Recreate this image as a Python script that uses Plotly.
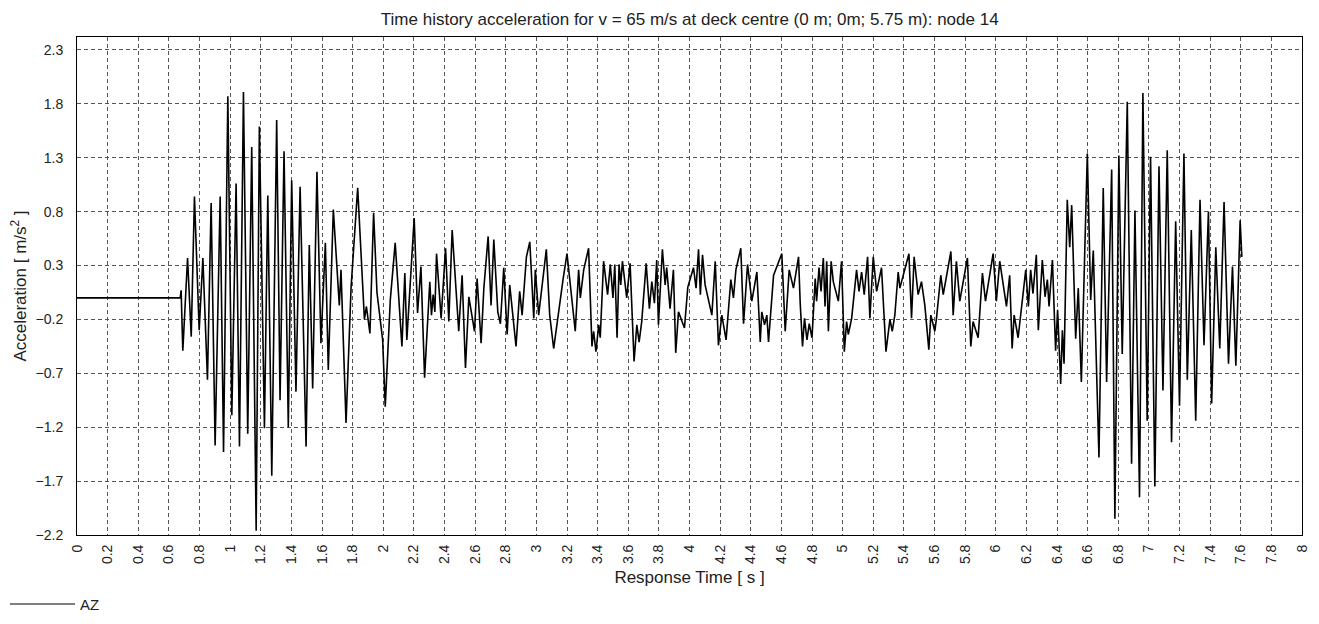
import plotly.graph_objects as go

# Time history of vertical acceleration AZ (extremes of the signal)
time_s = [
    0.000, 0.674, 0.680, 0.691, 0.722, 0.746, 0.767, 0.798, 0.822, 0.852,
    0.876, 0.902, 0.935, 0.957, 0.985, 1.011, 1.039, 1.061, 1.087, 1.115,
    1.141, 1.170, 1.191, 1.224, 1.246, 1.272, 1.304, 1.326, 1.352, 1.380,
    1.402, 1.430, 1.457, 1.496, 1.517, 1.539, 1.567, 1.593, 1.622, 1.641,
    1.674, 1.713, 1.724, 1.757, 1.790, 1.833, 1.877, 1.890, 1.913, 1.937,
    1.959, 1.996, 2.013, 2.046, 2.078, 2.122, 2.141, 2.154, 2.202, 2.224,
    2.246, 2.270, 2.304, 2.315, 2.326, 2.337, 2.348, 2.378, 2.407, 2.428,
    2.450, 2.493, 2.515, 2.537, 2.559, 2.596, 2.613, 2.639, 2.657, 2.685,
    2.704, 2.722, 2.748, 2.765, 2.787, 2.809, 2.826, 2.867, 2.891, 2.907,
    2.935, 2.957, 2.983, 2.993, 3.015, 3.065, 3.087, 3.113, 3.174, 3.200,
    3.254, 3.276, 3.287, 3.309, 3.341, 3.363, 3.374, 3.389, 3.407, 3.417,
    3.439, 3.465, 3.483, 3.500, 3.512, 3.527, 3.540, 3.551, 3.562, 3.590,
    3.612, 3.638, 3.656, 3.671, 3.688, 3.717, 3.738, 3.754, 3.771, 3.786,
    3.797, 3.823, 3.841, 3.851, 3.873, 3.895, 3.910, 3.928, 3.967, 3.989,
    4.026, 4.043, 4.059, 4.071, 4.085, 4.102, 4.146, 4.168, 4.189, 4.211,
    4.239, 4.270, 4.287, 4.303, 4.335, 4.353, 4.379, 4.407, 4.440, 4.462,
    4.472, 4.490, 4.505, 4.516, 4.549, 4.603, 4.625, 4.651, 4.679, 4.712,
    4.723, 4.738, 4.751, 4.767, 4.782, 4.800, 4.821, 4.830, 4.846, 4.859,
    4.874, 4.885, 4.896, 4.907, 4.925, 4.939, 4.972, 4.993, 5.011, 5.026,
    5.037, 5.059, 5.091, 5.107, 5.124, 5.141, 5.163, 5.178, 5.200, 5.222,
    5.254, 5.283, 5.309, 5.324, 5.341, 5.363, 5.374, 5.433, 5.450, 5.467,
    5.493, 5.515, 5.537, 5.563, 5.576, 5.602, 5.613, 5.641, 5.657, 5.707,
    5.722, 5.743, 5.765, 5.815, 5.837, 5.852, 5.885, 5.913, 5.933, 5.983,
    6.004, 6.026, 6.070, 6.091, 6.107, 6.120, 6.146, 6.196, 6.213, 6.228,
    6.243, 6.265, 6.278, 6.304, 6.322, 6.337, 6.348, 6.370, 6.391, 6.404,
    6.424, 6.435, 6.446, 6.467, 6.483, 6.496, 6.522, 6.539, 6.559, 6.598,
    6.620, 6.637, 6.674, 6.702, 6.724, 6.757, 6.778, 6.804, 6.826, 6.859,
    6.887, 6.909, 6.939, 6.961, 6.989, 7.011, 7.039, 7.066, 7.092, 7.120,
    7.148, 7.175, 7.200, 7.229, 7.251, 7.277, 7.306, 7.334, 7.360, 7.389,
    7.410, 7.437, 7.463, 7.491, 7.520, 7.546, 7.568, 7.596, 7.607,
]

accel_az = [
    0.00, 0.00, 0.07, -0.49, 0.37, -0.36, 0.94, -0.30, 0.37, -0.76,
    0.88, -1.37, 0.94, -1.43, 1.87, -1.09, 1.06, -1.38, 1.91, -1.26,
    1.40, -2.16, 1.59, -1.21, 0.95, -1.65, 1.65, -0.95, 1.36, -1.20,
    1.09, -0.87, 1.03, -1.38, 0.49, -0.84, 1.17, -0.42, 0.51, -0.67,
    0.82, -0.07, 0.26, -1.16, 0.10, 1.02, -0.20, -0.08, -0.33, 0.79,
    0.05, -0.39, -1.01, -0.02, 0.51, -0.45, 0.23, -0.39, 0.74, -0.14,
    0.29, -0.74, 0.15, -0.16, 0.03, -0.13, 0.41, -0.19, 0.46, -0.22,
    0.63, -0.31, 0.21, -0.65, 0.01, -0.31, 0.18, -0.42, 0.09, 0.57,
    -0.07, 0.54, -0.13, -0.24, 0.28, -0.34, 0.12, -0.45, 0.06, -0.16,
    0.38, 0.52, -0.19, 0.26, -0.16, 0.45, -0.16, -0.47, 0.17, 0.41,
    -0.31, 0.26, 0.00, 0.26, 0.46, -0.45, -0.31, -0.50, -0.25, -0.37,
    0.34, 0.03, 0.31, 0.00, 0.31, -0.37, 0.31, 0.12, 0.34, 0.00,
    0.32, -0.59, -0.25, -0.41, -0.22, 0.32, -0.10, 0.15, -0.05, 0.35,
    -0.25, 0.45, 0.12, 0.28, -0.10, 0.26, -0.51, -0.13, -0.28, 0.10,
    0.28, 0.09, 0.45, 0.03, 0.40, 0.12, -0.16, 0.34, -0.44, -0.16,
    -0.39, 0.17, 0.00, 0.26, 0.46, -0.24, 0.31, -0.03, 0.24, -0.41,
    -0.13, -0.25, -0.16, -0.41, 0.21, 0.41, -0.31, 0.26, 0.09, 0.38,
    -0.05, -0.45, -0.19, -0.39, -0.24, -0.37, 0.18, -0.03, 0.28, 0.06,
    0.37, -0.08, 0.34, -0.31, 0.34, 0.15, -0.03, 0.34, -0.50, -0.22,
    -0.34, -0.19, 0.26, 0.06, 0.24, 0.03, 0.38, -0.19, 0.38, 0.06,
    0.28, -0.50, -0.20, -0.31, -0.16, 0.24, 0.09, 0.41, -0.19, 0.38,
    0.03, 0.15, -0.07, -0.48, -0.16, -0.31, -0.19, 0.21, 0.03, 0.43,
    -0.16, 0.34, -0.03, 0.37, -0.45, -0.22, -0.37, 0.23, -0.03, 0.41,
    -0.03, 0.34, -0.08, 0.21, -0.47, -0.16, -0.37, 0.26, -0.08, 0.26,
    0.04, 0.40, -0.30, 0.35, 0.01, 0.17, -0.08, 0.35, -0.49, -0.11,
    -0.80, -0.30, -0.61, 0.91, 0.47, 0.86, -0.38, 0.09, -0.78, 1.34,
    -0.02, 0.44, -1.48, 1.02, -0.78, 1.19, -2.05, 1.32, -0.52, 1.82,
    -1.54, 0.81, -1.85, 1.90, -1.14, 1.31, -1.75, 1.22, -0.86, 1.37,
    -1.34, 0.71, -1.00, 1.34, -0.76, 0.63, -1.14, 0.91, -0.44, 0.80,
    -0.98, 0.47, -0.47, 0.89, -0.61, 0.29, -0.63, 0.72, 0.38,
]

y_ticks = [-2.2, -1.7, -1.2, -0.7, -0.2, 0.3, 0.8, 1.3, 1.8, 2.3]

title_text = "Time history acceleration for v = 65 m/s at deck centre (0 m; 0m; 5.75 m): node 14"
series_name = "AZ"

FONT = "Liberation Sans, Arial, sans-serif"
TXT = "#222"

fig = go.Figure()
fig.add_trace(go.Scatter(
    x=time_s, y=accel_az, mode="lines", name=series_name,
    line=dict(color="black", width=1.6), showlegend=False,
))

# the page body adds an 8 px offset, so the figure is 8 px smaller and shifted
fig.update_layout(
    width=1311, height=616,
    margin=dict(l=69, r=17, t=29, b=89, autoexpand=False),
    paper_bgcolor="white", plot_bgcolor="white",
    font=dict(family=FONT, size=14, color=TXT),
    title=dict(text=title_text, x=0.520, xanchor="center", y=0.982, yanchor="middle",
               pad=dict(t=0, b=0), font=dict(family=FONT, size=17, color=TXT)),
    showlegend=False,
    shapes=[dict(type="line", xref="paper", yref="paper",
                 x0=-0.0547, x1=-0.0016, y0=-0.1386, y1=-0.1386,
                 line=dict(color="black", width=1.2))],
    annotations=[dict(text=series_name, xref="paper", yref="paper",
                      x=0.0005, y=-0.1386, xanchor="left", yanchor="middle",
                      showarrow=False, font=dict(family=FONT, size=15, color=TXT))],
)
fig.update_xaxes(
    range=[0, 8], tick0=0, dtick=0.2, tickangle=-90,
    showgrid=True, gridcolor="#555", griddash="4px,3px", gridwidth=1,
    showline=True, linecolor="black", linewidth=1, mirror=True,
    zeroline=False, ticks="", automargin=False, ticklabelstandoff=3,
    title=dict(text="Response Time [ s ]", font=dict(family=FONT, size=17, color=TXT), standoff=8),
    tickfont=dict(family=FONT, size=14, color=TXT),
)
fig.update_yaxes(
    range=[-2.2, 2.42], tickvals=y_ticks,
    showgrid=True, gridcolor="#555", griddash="4px,3px", gridwidth=1,
    showline=True, linecolor="black", linewidth=1, mirror=True,
    zeroline=False, ticks="", automargin=False, ticklabelstandoff=10,
    title=dict(text="Acceleration [ m/s<sup>2</sup> ]", font=dict(family=FONT, size=17, color=TXT), standoff=8),
    tickfont=dict(family=FONT, size=14, color=TXT),
)

fig.write_html("out.html")
